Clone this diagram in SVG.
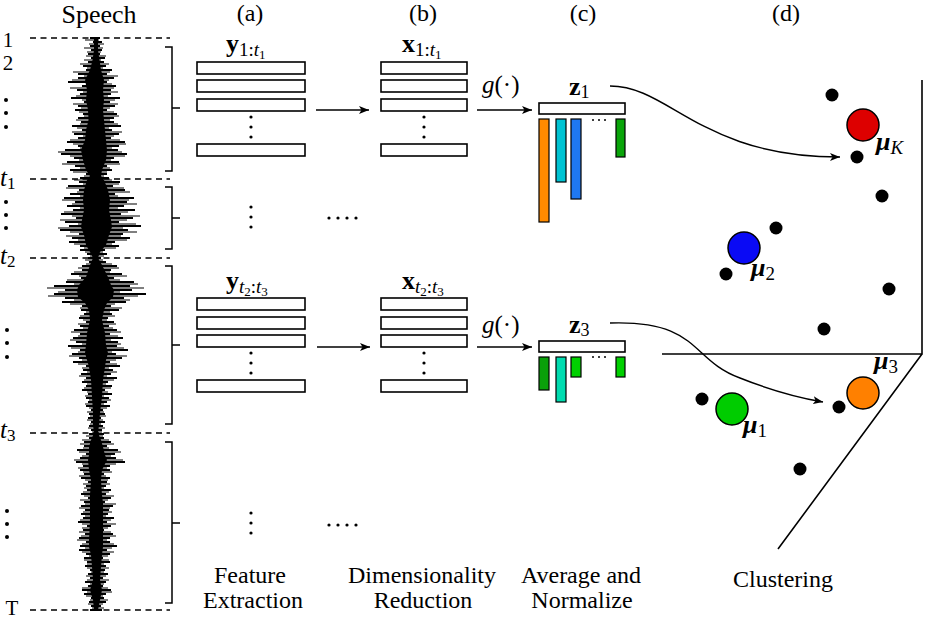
<svg xmlns="http://www.w3.org/2000/svg" width="926" height="619" viewBox="0 0 926 619" font-family="'Liberation Serif', 'Times New Roman', serif">
<defs>
<style>
.t{font-family:'Liberation Serif','Times New Roman',serif;fill:#000}
.lbl{font-size:24px;text-anchor:middle}
.box{fill:#fff;stroke:#000;stroke-width:1.6}
.bar{stroke:#000;stroke-width:1.2}
.dash{stroke:#000;stroke-width:1.4;stroke-dasharray:6 4.5;fill:none}
.br{stroke:#000;stroke-width:1.5;fill:none}
.con{stroke:#000;stroke-width:1.4;fill:none}
.pt{fill:#000}
.cen{stroke:#000;stroke-width:1.5}
</style>
<marker id="ah" viewBox="0 0 10 8" refX="10" refY="4" markerWidth="10" markerHeight="8" markerUnits="userSpaceOnUse" orient="auto">
<path d="M0,0 L10,4 L0,8 L2.5,4 Z" fill="#000"/>
</marker>
</defs>
<rect width="926" height="619" fill="#fff"/>

<g id="speech">
<text class="t" x="99" y="23" font-size="26" text-anchor="middle">Speech</text>
<path class="dash" d="M30,38H170 M30,179H170 M30,258H170 M30,433H170 M30,610H170"/>
<polygon fill="#000" points="94,38 94,50 92.5,60 90,70 85,80 87,90 86,100 88,110 88.5,120 86,130 85,140 81,150 83,160 86,170 90,176 87,180 84,190 83,200 84,210 82,220 81,227 84,235 86,245 90,252 93,258 90,265 86,277 79,285 77,290 78,297 85,303 89,310 90,320 87,333 86,345 85,353 87,360 89,367 91,380 92,397 93,413 93,425 94,433 91,440 89,447 89,455 88,460 89,470 91,480 90,495 90,503 90,520 89,540 89,547 91,555 92,567 93,580 90,590 93,600 94,610 98,610 100,600 102,590 100,580 101,567 102,555 103,547 103,540 103,520 103,503 102,495 101,480 102,470 107,460 105,455 103,447 101,440 98,433 99,425 100,413 102,397 103,380 105,367 106,360 108,353 106,345 105,333 102,320 104,310 107,303 113,297 114,290 111,285 108,277 102,265 98,258 100,252 106,245 109,235 112,227 111,220 109,210 110,200 108,190 104,180 101,176 102,170 106,160 107,150 106,140 105,130 104,120 103,110 104,100 103,90 104,80 101,70 99.5,60 98,50 98,38"/>
<path stroke="#000" stroke-width="2" fill="none" d="M90 38H100M93 42H102M90 46H100M91 50H102M88 54H100M91 58H105M88 62H104M83 66H106M86 70H112M78 74H107M78 78H114M68 82H107M82 86H116M77 90H111M80 94H111M71 98H120M84 102H110M78 106H115M75 110H107M83 114H117M78 118H114M81 122H114M72 126H121M82 130H112M74 134H119M78 138H111M67 142H125M78 146H119M65 150H118M61 154H127M74 158H114M67 162H119M75 166H107M70 170H112M86 174H107M80 178H109M79 182H120M68 186H113M79 190H125M70 194H115M64 198H134M75 202H127M67 206H124M73 210H135M61 214H121M76 218H133M65 222H119M69 226H141M60 230H128M79 234H123M72 238H130M69 242H115M80 246H119M80 250H105M87 254H107M88 258H101M89 262H106M82 266H117M82 270H111M71 274H122M81 278H114M66 282H134M54 286H130M65 290H132M54 294H146M65 298H124M62 302H126M82 306H111M81 310H119M84 314H112M79 318H108M86 322H114M80 326H109M74 330H117M80 334H110M73 338H123M76 342H118M68 346H117M80 350H128M72 354H116M79 358H122M73 362H110M86 366H120M83 370H113M81 374H111M86 378H117M82 382H108M86 386H112M82 390H105M88 394H112M86 398H109M88 402H107M86 406H110M91 410H103M89 414H105M88 418H101M91 422H105M89 426H103M91 430H102M89 434H104M89 438H104M84 442H111M84 446H107M77 450H118M86 454H115M80 458H116M76 462H125M83 466H110M80 470H110M84 474H104M81 478H110M88 482H107M86 486H106M87 490H111M81 494H106M88 498H111M84 502H105M81 506H113M85 510H109M81 514H108M83 518H114M78 522H107M87 526H111M83 530H104M85 534H113M79 538H110M86 542H110M80 546H117M79 550H107M86 554H110M84 558H103M87 562H110M85 566H106M90 570H105M88 574H108M90 578H103M85 582H106M88 586H103M82 590H111M84 594H106M91 598H104M89 602H106M91 606H101M90 610H102"/>
<path stroke="#000" stroke-width="1.2" fill="none" d="M85 40H99M89 44H104M84 48H103M87 52H101M86 56H106M84 60H101M80 64H109M87 68H103M73 72H110M84 76H118M72 80H109M86 84H112M70 88H114M83 92H118M76 96H108M82 100H115M73 104H118M81 108H110M79 112H114M84 116H119M76 120H110M80 124H118M77 128H109M72 132H122M83 136H114M70 140H120M73 144H126M80 148H112M58 152H122M70 156H125M79 160H111M62 164H120M80 168H110M73 172H107M84 176H104M74 180H112M83 184H119M66 188H124M77 192H130M80 196H118M62 200H129M72 204H137M80 208H118M64 212H128M72 216H140M60 220H127M78 224H136M58 228H123M70 232H137M66 236H121M78 240H127M74 244H112M84 248H116M85 252H103M90 256H104M85 260H103M86 264H112M78 268H119M74 272H110M79 276H127M67 280H120M74 284H138M47 288H144M58 292H120M48 296H138M74 300H130M70 304H115M80 308H122M86 312H110M80 316H115M83 320H107M78 324H116M83 328H113M71 332H121M78 336H118M70 340H111M82 344H121M71 348H124M78 352H112M69 356H127M82 360H116M78 364H117M82 368H109M87 372H117M79 376H107M84 380H114M87 384H106M84 388H111M87 392H108M85 396H104M89 400H111M85 404H104M89 408H107M87 412H104M90 416H106M87 420H103M90 424H101M88 428H105M92 432H102M86 436H103M82 440H109M80 444H114M83 448H109M79 452H121M82 456H111M74 460H123M82 464H116M78 468H107M83 472H112M79 476H106M85 480H108M83 484H110M84 488H104M83 492H109M84 496H114M80 500H108M85 504H116M79 508H110M83 512H112M85 516H106M80 520H111M82 524H116M82 528H108M79 532H111M81 536H116M77 540H107M82 544H114M85 548H112M82 552H114M89 556H108M84 560H109M87 564H104M87 568H109M91 572H104M86 576H106M87 580H109M90 584H104M82 588H108M87 592H112M86 596H103M90 600H108M88 604H103M92 608H104"/>
<text class="t" x="8" y="47" font-size="21" text-anchor="middle">1</text>
<text class="t" x="8" y="70" font-size="21" text-anchor="middle">2</text>
<text class="t" x="0" y="186" font-size="25" font-style="italic">t<tspan font-size="17" font-style="normal" dy="3">1</tspan></text>
<text class="t" x="0" y="264" font-size="25" font-style="italic">t<tspan font-size="17" font-style="normal" dy="3">2</tspan></text>
<text class="t" x="0" y="438" font-size="25" font-style="italic">t<tspan font-size="17" font-style="normal" dy="3">3</tspan></text>
<text class="t" x="12" y="615" font-size="21" text-anchor="middle">T</text>
<g class="pt">
<circle cx="6" cy="100" r="2"/><circle cx="6" cy="113" r="2"/><circle cx="6" cy="127" r="2"/>
<circle cx="6" cy="202" r="2"/><circle cx="6" cy="215" r="2"/><circle cx="6" cy="228" r="2"/>
<circle cx="7" cy="330" r="2"/><circle cx="7" cy="343" r="2"/><circle cx="7" cy="357" r="2"/>
<circle cx="7" cy="511" r="2"/><circle cx="7" cy="524" r="2"/><circle cx="7" cy="537" r="2"/>
</g>
<path class="br" d="M165,47H172V171H165M172,108H180 M165,187H172V249H165M172,218H180 M165,266H172V424H165M172,345H180 M165,442H172V603H165M172,523H180"/>
</g>

<g id="feature-extraction">
<text class="t lbl" x="250" y="21">(a)</text>
<text class="t" x="226" y="52" font-size="26" font-weight="bold">y<tspan font-size="19" font-weight="normal" dy="4">1:<tspan font-style="italic">t</tspan><tspan font-size="13" dy="3">1</tspan></tspan></text>
<rect class="box" x="197" y="62" width="108" height="12"/>
<rect class="box" x="197" y="80" width="108" height="12"/>
<rect class="box" x="197" y="99" width="108" height="12"/>
<rect class="box" x="197" y="144" width="108" height="12"/>
<g class="pt"><circle cx="251" cy="117" r="1.6"/><circle cx="251" cy="127" r="1.6"/><circle cx="251" cy="137" r="1.6"/>
<circle cx="251" cy="207" r="1.6"/><circle cx="251" cy="217" r="1.6"/><circle cx="251" cy="227" r="1.6"/>
<circle cx="251" cy="353" r="1.6"/><circle cx="251" cy="363" r="1.6"/><circle cx="251" cy="373" r="1.6"/>
<circle cx="251" cy="513" r="1.6"/><circle cx="251" cy="523" r="1.6"/><circle cx="251" cy="533" r="1.6"/></g>
<text class="t" x="226" y="289" font-size="26" font-weight="bold">y<tspan font-size="19" font-weight="normal" font-style="italic" dy="4">t<tspan font-size="13" font-style="normal" dy="3">2</tspan><tspan font-style="normal" dy="-3">:</tspan>t<tspan font-size="13" font-style="normal" dy="3">3</tspan></tspan></text>
<rect class="box" x="197" y="298" width="108" height="12"/>
<rect class="box" x="197" y="317" width="108" height="12"/>
<rect class="box" x="197" y="335" width="108" height="12"/>
<rect class="box" x="197" y="380" width="108" height="12"/>
<text class="t lbl" x="250" y="583">Feature</text>
<text class="t lbl" x="253" y="608">Extraction</text>
</g>

<g id="dimensionality-reduction">
<text class="t lbl" x="423" y="21">(b)</text>
<text class="t" x="402" y="52" font-size="26" font-weight="bold">x<tspan font-size="19" font-weight="normal" dy="4">1:<tspan font-style="italic">t</tspan><tspan font-size="13" dy="3">1</tspan></tspan></text>
<rect class="box" x="381" y="62" width="86" height="12"/>
<rect class="box" x="381" y="80" width="86" height="12"/>
<rect class="box" x="381" y="99" width="86" height="12"/>
<rect class="box" x="381" y="144" width="86" height="12"/>
<g class="pt"><circle cx="424" cy="117" r="1.6"/><circle cx="424" cy="127" r="1.6"/><circle cx="424" cy="137" r="1.6"/>
<circle cx="424" cy="353" r="1.6"/><circle cx="424" cy="363" r="1.6"/><circle cx="424" cy="373" r="1.6"/>
<circle cx="329" cy="218" r="1.6"/><circle cx="338" cy="218" r="1.6"/><circle cx="347" cy="218" r="1.6"/><circle cx="356" cy="218" r="1.6"/>
<circle cx="329" cy="525" r="1.6"/><circle cx="338" cy="525" r="1.6"/><circle cx="347" cy="525" r="1.6"/><circle cx="356" cy="525" r="1.6"/></g>
<text class="t" x="402" y="289" font-size="26" font-weight="bold">x<tspan font-size="19" font-weight="normal" font-style="italic" dy="4">t<tspan font-size="13" font-style="normal" dy="3">2</tspan><tspan font-style="normal" dy="-3">:</tspan>t<tspan font-size="13" font-style="normal" dy="3">3</tspan></tspan></text>
<rect class="box" x="381" y="298" width="86" height="12"/>
<rect class="box" x="381" y="317" width="86" height="12"/>
<rect class="box" x="381" y="335" width="86" height="12"/>
<rect class="box" x="381" y="380" width="86" height="12"/>
<text class="t lbl" x="422" y="583">Dimensionality</text>
<text class="t lbl" x="423" y="608">Reduction</text>
</g>

<g id="average-normalize">
<text class="t lbl" x="583" y="21">(c)</text>
<text class="t" x="482" y="93" font-size="25"><tspan font-style="italic">g</tspan>(·)</text>
<text class="t" x="569" y="95" font-size="26" font-weight="bold">z<tspan font-size="18" font-weight="normal" dy="3">1</tspan></text>
<rect class="box" x="539" y="103" width="86" height="11"/>
<rect class="bar" x="539" y="119" width="10" height="103" fill="#ff8a00"/>
<rect class="bar" x="556" y="119" width="10" height="63" fill="#00c3d3"/>
<rect class="bar" x="571" y="119" width="10" height="80" fill="#1f78f2"/>
<rect class="bar" x="616" y="119" width="9" height="38" fill="#0aa50a"/>
<g class="pt"><circle cx="593" cy="120" r="1"/><circle cx="599" cy="120" r="1"/><circle cx="605" cy="120" r="1"/>
<circle cx="593" cy="357" r="1"/><circle cx="599" cy="357" r="1"/><circle cx="605" cy="357" r="1"/></g>
<text class="t" x="482" y="333" font-size="25"><tspan font-style="italic">g</tspan>(·)</text>
<text class="t" x="569" y="333" font-size="26" font-weight="bold">z<tspan font-size="18" font-weight="normal" dy="3">3</tspan></text>
<rect class="box" x="539" y="341" width="86" height="11"/>
<rect class="bar" x="539" y="357" width="10" height="33" fill="#0aa00a"/>
<rect class="bar" x="556" y="357" width="10" height="45" fill="#00dcb0"/>
<rect class="bar" x="571" y="357" width="10" height="20" fill="#00d000"/>
<rect class="bar" x="616" y="357" width="9" height="20" fill="#00d000"/>
<text class="t lbl" x="581" y="583">Average and</text>
<text class="t lbl" x="582" y="608">Normalize</text>
</g>

<g id="clustering">
<text class="t lbl" x="786" y="21">(d)</text>
<path stroke="#000" stroke-width="1.6" fill="none" d="M922,80V354H662 M922,354L778,549"/>
<g class="pt">
<circle cx="832" cy="95" r="6.5"/><circle cx="857" cy="157" r="6.5"/><circle cx="882" cy="196" r="6.5"/>
<circle cx="776" cy="228" r="6.5"/><circle cx="726" cy="274" r="6.5"/><circle cx="889" cy="289" r="6.5"/>
<circle cx="824" cy="329" r="6.5"/><circle cx="702" cy="399" r="6.5"/><circle cx="839" cy="407" r="6.5"/>
<circle cx="800" cy="469" r="6.5"/>
</g>
<circle class="cen" cx="863" cy="125" r="16" fill="#dd0000"/>
<circle class="cen" cx="744" cy="248" r="16" fill="#0a0af5"/>
<circle class="cen" cx="732" cy="409" r="16" fill="#00cc00"/>
<circle class="cen" cx="863" cy="393" r="16" fill="#ff8000"/>
<text class="t" x="876" y="150" font-size="26" font-weight="bold" font-style="italic">μ<tspan font-size="19" font-weight="normal" dy="4">K</tspan></text>
<text class="t" x="751" y="276" font-size="26" font-weight="bold" font-style="italic">μ<tspan font-size="19" font-weight="normal" font-style="normal" dy="4">2</tspan></text>
<text class="t" x="874" y="369" font-size="26" font-weight="bold" font-style="italic">μ<tspan font-size="19" font-weight="normal" font-style="normal" dy="4">3</tspan></text>
<text class="t" x="743" y="433" font-size="26" font-weight="bold" font-style="italic">μ<tspan font-size="19" font-weight="normal" font-style="normal" dy="4">1</tspan></text>
<text class="t lbl" x="783" y="587">Clustering</text>
</g>

<g id="connectors">
<path class="con" marker-end="url(#ah)" d="M316,110H369"/>
<path class="con" marker-end="url(#ah)" d="M317,347H370"/>
<path class="con" marker-end="url(#ah)" d="M477,110H532"/>
<path class="con" marker-end="url(#ah)" d="M477,347H532"/>
<path class="con" marker-end="url(#ah)" d="M610,86C670,86 700,157 840,157"/>
<path class="con" marker-end="url(#ah)" d="M610,323C700,320 690,360 740,378C770,390 800,398 823,402"/>
</g>
</svg>
